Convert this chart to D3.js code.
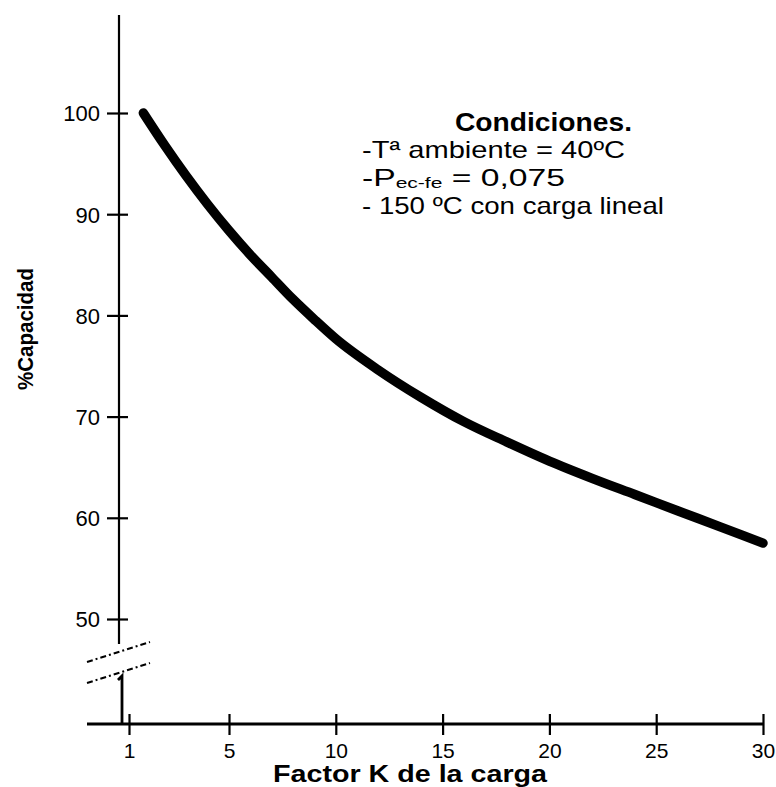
<!DOCTYPE html>
<html>
<head>
<meta charset="utf-8">
<script src="https://cdn.jsdelivr.net/npm/d3@7"></script>
<style>
  html, body { margin: 0; padding: 0; background: #fff; }
  svg { display: block; }
  text { font-family: "Liberation Sans", Arial, sans-serif; fill: #000; }
</style>
</head>
<body>
<svg id="chart" width="776" height="787"></svg>
<script>
// ---- data ----
const kFactor = [1, 2, 3, 4, 5, 6, 7, 8, 9, 10, 12, 14, 16, 18, 20, 22, 24, 26, 28, 30];
const capacity = [100, 96.8, 93.8, 91.0, 88.4, 86.0, 83.8, 81.6, 79.6, 77.7, 74.6, 71.9, 69.5, 67.5, 65.6, 63.9, 62.3, 60.7, 59.1, 57.5];
const xTickValues = [1, 5, 10, 15, 20, 25, 30];
const yTickValues = [50, 60, 70, 80, 90, 100];
const xTitle = "Factor K de la carga";
const yTitle = "%Capacidad";
const noteTitle = "Condiciones.";

// ---- scales ----
const svg = d3.select("#chart");
const x = d3.scaleLinear().domain([0, 30]).range([122, 763]);
const xTickScale = d3.scaleLinear().domain([1, 5, 30]).range([129, 229, 763]);
const y = d3.scaleLinear().domain([50, 100]).range([619, 113]);
const yAxisX = 119;
const xAxisY = 724;

// ---- y axis ----
svg.append("line").attr("x1", yAxisX).attr("x2", yAxisX).attr("y1", 15).attr("y2", 644)
  .attr("stroke", "#000").attr("stroke-width", 2.2);

const gy = svg.append("g").attr("transform", `translate(${yAxisX},0)`)
  .call(d3.axisLeft(y).tickValues(yTickValues).tickFormat(d3.format("d")).tickSize(0));
gy.select(".domain").remove();
gy.selectAll(".tick line").attr("x1", -12).attr("x2", 9).attr("stroke", "#000").attr("stroke-width", 2.2);
gy.selectAll(".tick text").attr("x", -19).attr("dy", "0.36em")
  .style("font-size", "22px").style("font-family", "'Liberation Sans', Arial, sans-serif");

// axis break marks
const breakG = svg.append("g").attr("stroke", "#000").attr("stroke-width", 2).attr("fill", "none")
  .attr("stroke-dasharray", "6,3,2,3");
breakG.append("line").attr("x1", 87).attr("y1", 662).attr("x2", 150).attr("y2", 642);
breakG.append("line").attr("x1", 87).attr("y1", 683).attr("x2", 150).attr("y2", 663);
svg.append("path").attr("d", `M118,680 L122,676 L122,${xAxisY}`)
  .attr("stroke", "#000").attr("stroke-width", 2.8).attr("fill", "none");

// ---- x axis ----
svg.append("line").attr("x1", 87).attr("x2", xTickScale(30)).attr("y1", xAxisY).attr("y2", xAxisY)
  .attr("stroke", "#000").attr("stroke-width", 2.8);
const gx = svg.append("g").attr("transform", `translate(0,${xAxisY})`)
  .call(d3.axisBottom(xTickScale).tickValues(xTickValues).tickFormat(d3.format("d")).tickSize(0));
gx.select(".domain").remove();
gx.selectAll(".tick line").attr("y1", -10).attr("y2", 11).attr("stroke", "#000").attr("stroke-width", 2.2);
gx.selectAll(".tick text").attr("y", 34).attr("dy", 0)
  .style("font-size", "21px").style("font-family", "'Liberation Sans', Arial, sans-serif");

// ---- axis titles ----
svg.append("text").attr("x", 410).attr("y", 782).attr("text-anchor", "middle")
  .style("font-size", "24px").style("font-weight", "bold")
  .attr("textLength", 274).attr("lengthAdjust", "spacingAndGlyphs").text(xTitle);
svg.append("text").attr("transform", "translate(33,329) rotate(-90)").attr("text-anchor", "middle")
  .style("font-size", "22px").style("font-weight", "bold")
  .attr("textLength", 122).attr("lengthAdjust", "spacingAndGlyphs").text(yTitle);

// ---- curve ----
const data = kFactor.map((k, i) => ({ k, v: capacity[i] }));
svg.append("path").datum(data)
  .attr("d", d3.line().x(d => x(d.k)).y(d => y(d.v)).curve(d3.curveMonotoneX))
  .attr("fill", "none").attr("stroke", "#000").attr("stroke-width", 9.5)
  .attr("stroke-linecap", "round").attr("stroke-linejoin", "round");

// ---- annotation ----
const note = svg.append("g").style("font-size", "24px");
note.append("text").attr("x", 455).attr("y", 131).style("font-weight", "bold").style("font-size", "25px")
  .attr("textLength", 177).attr("lengthAdjust", "spacingAndGlyphs").text(noteTitle);
note.append("text").attr("x", 362).attr("y", 158)
  .attr("textLength", 263).attr("lengthAdjust", "spacingAndGlyphs").text("-Tª ambiente = 40ºC");
const t2 = note.append("text").attr("x", 362).attr("y", 186);
t2.append("tspan").text("-P");
t2.append("tspan").attr("dy", 2).style("font-size", "15px").text("ec-fe");
t2.append("tspan").attr("dy", -2).text(" = 0,075");
t2.attr("textLength", 203).attr("lengthAdjust", "spacingAndGlyphs");
note.append("text").attr("x", 362).attr("y", 214)
  .attr("textLength", 302).attr("lengthAdjust", "spacingAndGlyphs").text("-  150 ºC con carga lineal");
</script>
</body>
</html>
